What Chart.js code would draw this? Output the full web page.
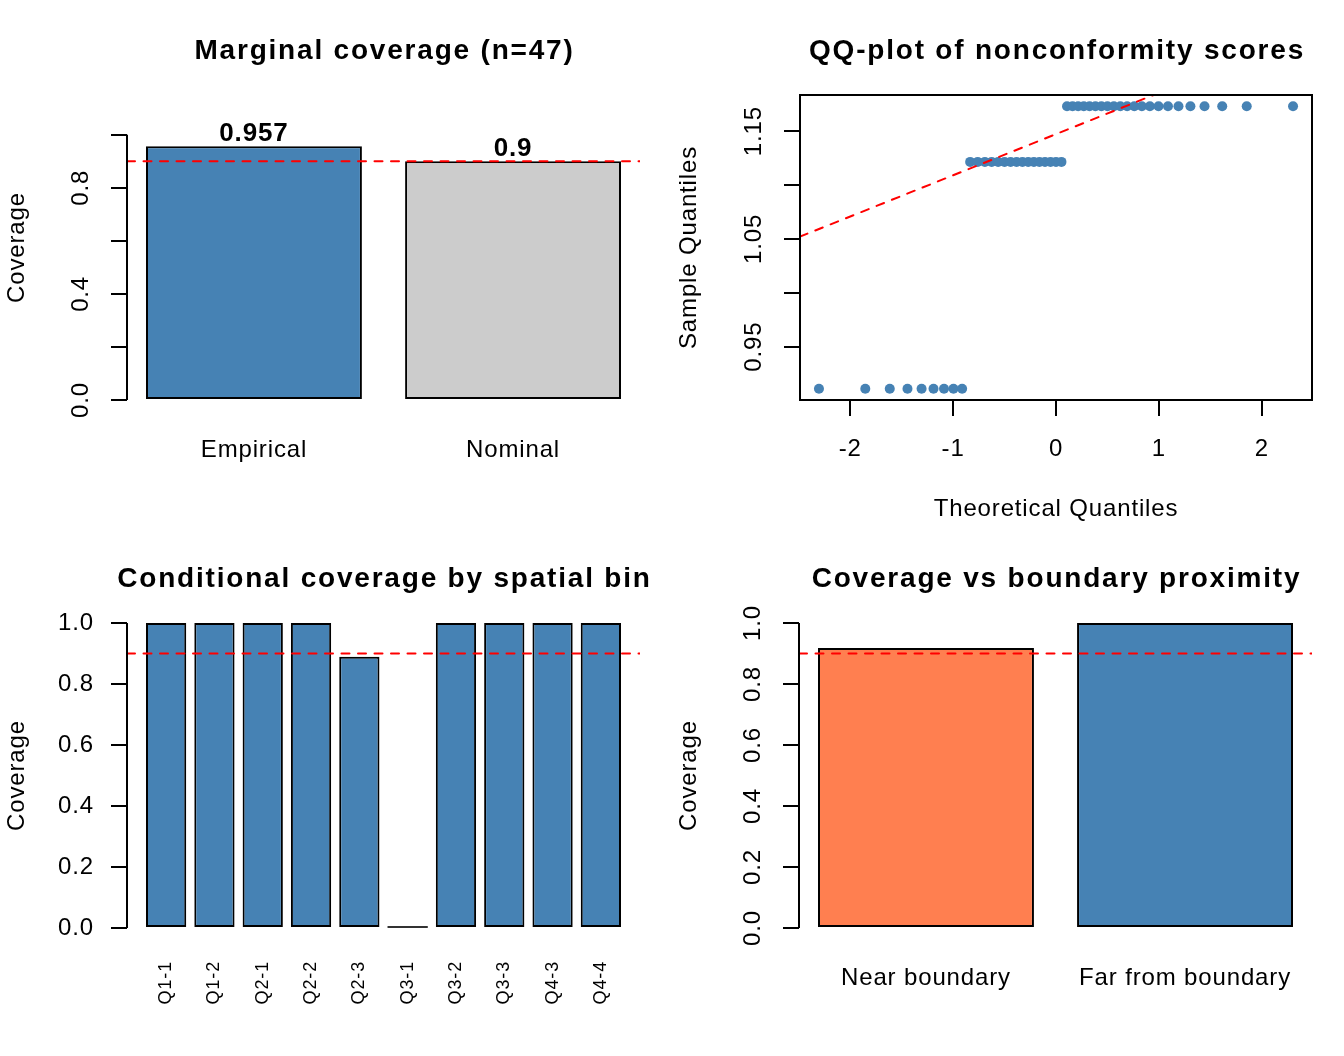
<!DOCTYPE html>
<html>
<head>
<meta charset="utf-8">
<script src="https://cdn.jsdelivr.net/npm/chart.js@4.4.1/dist/chart.umd.min.js"></script>
<style>
  body { margin: 0; background: #fff; }
  #wrap { position: relative; width: 1344px; height: 1056px; background: #fff; }
  #wrap canvas { position: absolute; }
</style>
</head>
<body>
<div id="wrap">
  <canvas id="marginal" width="672" height="528" style="left:0;top:0"></canvas>
  <canvas id="qqplot" width="672" height="528" style="left:672px;top:0"></canvas>
  <canvas id="bins" width="672" height="528" style="left:0;top:528px"></canvas>
  <canvas id="boundary" width="672" height="528" style="left:672px;top:528px"></canvas>
</div>
<script>
// Panel 1: marginal coverage
const marginalLabels = ['Empirical', 'Nominal'];
const marginalValues = [0.957, 0.9];
const marginalColors = ['#4682B4', '#CCCCCC'];
const nominalLevel = 0.9;

// Panel 2: QQ plot of nonconformity scores (n = 47)
const theoreticalQ = [
    -2.303, -1.853, -1.615, -1.443, -1.306, -1.190, -1.088, -0.996, -0.912, -0.834,
    -0.761, -0.691, -0.625, -0.562, -0.500, -0.441, -0.383, -0.326, -0.270, -0.215,
    -0.161, -0.107, -0.053, 0.000, 0.053, 0.107, 0.161, 0.215, 0.270, 0.326,
    0.383, 0.441, 0.500, 0.562, 0.625, 0.691, 0.761, 0.834, 0.912, 0.996,
    1.088, 1.190, 1.306, 1.443, 1.615, 1.853, 2.303
];
const sampleQ = [
    0.911, 0.911, 0.911, 0.911, 0.911, 0.911, 0.911, 0.911, 0.911,
    1.1215, 1.1215, 1.1215, 1.1215, 1.1215, 1.1215, 1.1215, 1.1215,
    1.1215, 1.1215, 1.1215, 1.1215, 1.1215, 1.1215, 1.1215, 1.1215,
    1.1731, 1.1731, 1.1731, 1.1731, 1.1731, 1.1731, 1.1731, 1.1731, 1.1731, 1.1731, 1.1731,
    1.1731, 1.1731, 1.1731, 1.1731, 1.1731, 1.1731, 1.1731, 1.1731, 1.1731, 1.1731, 1.1731
];
const qqXTicks = [-2, -1, 0, 1, 2];
const qqXTickLabels = ['-2', '-1', '0', '1', '2'];
const qqYTicks = [0.95, 1.0, 1.05, 1.1, 1.15];
const qqYTickLabels = ['0.95', '', '1.05', '', '1.15'];

// Panel 3: conditional coverage by spatial bin
const binLabels = ['Q1-1', 'Q1-2', 'Q2-1', 'Q2-2', 'Q2-3', 'Q3-1', 'Q3-2', 'Q3-3', 'Q4-3', 'Q4-4'];
const binCoverage = [1, 1, 1, 1, 0.889, 0, 1, 1, 1, 1];

// Panel 4: coverage vs boundary proximity
const boundaryLabels = ['Near boundary', 'Far from boundary'];
const boundaryCoverage = [0.918, 1.0];
const boundaryColors = ['#FF7F50', '#4682B4'];

// Coverage axis ticks
const coverageTicks = [0, 0.2, 0.4, 0.6, 0.8, 1.0];
const coverageTickLabels = ['0.0', '0.2', '0.4', '0.6', '0.8', '1.0'];
const marginalTickLabels = ['0.0', '', '0.4', '', '0.8', ''];

const FONT = '"Liberation Sans", Arial, Helvetica, sans-serif';
const STEEL = '#4682B4';

Chart.defaults.color = '#000';
Chart.defaults.font.family = FONT;
Chart.defaults.font.size = 24;

// R-ish decorations: titles, axis line, box, value labels
const rStyle = {
    id: 'rStyle',
    beforeUpdate(chart) {
        chart.ctx.letterSpacing = '0.85px';
    },
    afterDatasetsDraw(chart, args, opts) {
        const { ctx, chartArea: a } = chart;
        ctx.save();
        ctx.strokeStyle = '#000';
        ctx.lineWidth = 2;

        if (opts.box) {
            ctx.strokeRect(a.left, a.top, a.right - a.left, a.bottom - a.top);
        }

        if (opts.axisLine) {
            const y = chart.scales.y;
            ctx.beginPath();
            ctx.moveTo(a.left, y.getPixelForValue(y.ticks[0].value));
            ctx.lineTo(a.left, y.getPixelForValue(y.ticks[y.ticks.length - 1].value));
            ctx.stroke();
        }

        if (opts.barIndex !== undefined) {
            const meta = chart.getDatasetMeta(opts.barIndex);
            const values = chart.data.datasets[opts.barIndex].data;

            // zero height bars still show their outline
            ctx.strokeStyle = '#333';
            meta.data.forEach((bar, i) => {
                if (values[i].y === 0) {
                    ctx.beginPath();
                    ctx.moveTo(bar.x - bar.width / 2, bar.base - 1);
                    ctx.lineTo(bar.x + bar.width / 2, bar.base - 1);
                    ctx.stroke();
                }
            });

            if (opts.valueLabels) {
                ctx.fillStyle = '#000';
                ctx.font = 'bold 26px ' + FONT;
                ctx.letterSpacing = '0.85px';
                ctx.textAlign = 'center';
                ctx.textBaseline = 'alphabetic';
                meta.data.forEach((bar, i) => {
                    ctx.fillText(String(values[i].y), bar.x, bar.y - 5.5);
                });
            }
        }
        ctx.restore();
    },
    afterDraw(chart, args, opts) {
        if (!opts.title) return;
        const { ctx, chartArea: a } = chart;
        ctx.save();
        ctx.fillStyle = '#000';
        ctx.font = 'bold 28px ' + FONT;
        ctx.letterSpacing = '1.8px';
        ctx.textAlign = 'center';
        ctx.textBaseline = 'alphabetic';
        ctx.fillText(opts.title, (a.left + a.right) / 2 + 1, 58.5);
        ctx.restore();
    }
};

const baseOptions = () => ({
    responsive: false,
    animation: false,
    devicePixelRatio: 1,
    layout: { padding: { left: 0, top: 95, right: 32, bottom: 0 } },
    plugins: {
        legend: { display: false },
        tooltip: { enabled: false }
    }
});

const tickGrid = { drawOnChartArea: false, tickLength: 16, color: '#000', lineWidth: 2 };

// barplot() layout: width 1, space 0.2, x range padded by 4%
function barXLimits(n) {
    const lo = 0.2;
    const hi = 1.2 * n;
    const pad = 0.04 * (hi - lo);
    return [lo - pad, hi + pad];
}

function barPanel(id, p) {
    const [xMin, xMax] = barXLimits(p.labels.length);
    const centers = p.labels.map((_, i) => 0.7 + 1.2 * i);

    const opts = baseOptions();
    opts.plugins.rStyle = { title: p.title, axisLine: true, barIndex: 1, valueLabels: !!p.valueLabels };
    opts.scales = {
        x: {
            type: 'linear',
            min: xMin,
            max: xMax,
            offset: false,
            afterBuildTicks: s => { s.ticks = centers.map(v => ({ value: v })); },
            ticks: {
                autoSkip: false,
                minRotation: p.xRotation,
                maxRotation: p.xRotation,
                padding: p.xPadding,
                font: { size: p.xFontSize },
                callback: (v, i) => p.labels[i]
            },
            grid: { display: false, drawTicks: false, offset: false },
            border: { display: false },
            afterFit: s => { s.height = 128; }
        },
        y: {
            type: 'linear',
            min: 0,
            max: p.yMax,
            afterBuildTicks: s => { s.ticks = coverageTicks.map(v => ({ value: v })); },
            ticks: {
                autoSkip: false,
                minRotation: p.yRotation,
                maxRotation: p.yRotation,
                crossAlign: p.yRotation ? 'center' : 'near',
                padding: p.yPadding,
                callback: (v, i) => p.yTickLabels[i]
            },
            grid: tickGrid,
            border: { display: false },
            title: { display: true, text: 'Coverage', padding: { top: 3, bottom: 0 } },
            afterFit: s => { s.width = 127; }
        }
    };

    return new Chart(document.getElementById(id), {
        type: 'bar',
        data: {
            datasets: [
                {
                    type: 'line',
                    data: [{ x: xMin, y: nominalLevel }, { x: xMax, y: nominalLevel }],
                    borderColor: '#FF0000',
                    borderWidth: 2,
                    borderDash: [8, 8.5],
                    borderCapStyle: 'round',
                    pointRadius: 0,
                    order: 0
                },
                {
                    type: 'bar',
                    data: p.values.map((v, i) => ({ x: centers[i], y: v })),
                    backgroundColor: p.colors,
                    borderColor: '#000',
                    borderWidth: 2,
                    borderSkipped: false,
                    barPercentage: 1 / 1.2,
                    categoryPercentage: 1,
                    order: 1
                }
            ]
        },
        options: opts,
        plugins: [rStyle]
    });
}

// Marginal coverage
barPanel('marginal', {
    title: 'Marginal coverage (n=47)',
    labels: marginalLabels,
    values: marginalValues,
    colors: marginalColors,
    valueLabels: true,
    yMax: 1.15,
    yTickLabels: marginalTickLabels,
    yRotation: 90,
    yPadding: 12,
    xRotation: 0,
    xPadding: 36.4,
    xFontSize: 24
});

// Conditional coverage by spatial bin
barPanel('bins', {
    title: 'Conditional coverage by spatial bin',
    labels: binLabels,
    values: binCoverage,
    colors: STEEL,
    yMax: 1,
    yTickLabels: coverageTickLabels,
    yRotation: 0,
    yPadding: 17,
    xRotation: 90,
    xPadding: 33,
    xFontSize: 18
});

// Coverage vs boundary proximity
barPanel('boundary', {
    title: 'Coverage vs boundary proximity',
    labels: boundaryLabels,
    values: boundaryCoverage,
    colors: boundaryColors,
    yMax: 1,
    yTickLabels: coverageTickLabels,
    yRotation: 90,
    yPadding: 12,
    xRotation: 0,
    xPadding: 36.4,
    xFontSize: 24
});

// QQ plot
(function () {
    const padRange = arr => {
        const lo = Math.min(...arr);
        const hi = Math.max(...arr);
        const pad = 0.04 * (hi - lo);
        return [lo - pad, hi + pad];
    };
    const [xMin, xMax] = padRange(theoreticalQ);
    const [yMin, yMax] = padRange(sampleQ);

    // qqline: through the 1st and 3rd quartiles
    const sorted = sampleQ.slice().sort((a, b) => a - b);
    const quant = p => {
        const h = (sorted.length - 1) * p;
        const lo = Math.floor(h);
        return sorted[lo] + (h - lo) * ((sorted[lo + 1] ?? sorted[lo]) - sorted[lo]);
    };
    const z = 0.6745;
    const slope = (quant(0.75) - quant(0.25)) / (2 * z);
    const intercept = quant(0.25) + slope * z;

    const opts = baseOptions();
    opts.plugins.rStyle = { title: 'QQ-plot of nonconformity scores', box: true };
    opts.scales = {
        x: {
            type: 'linear',
            min: xMin,
            max: xMax,
            afterBuildTicks: s => { s.ticks = qqXTicks.map(v => ({ value: v })); },
            ticks: {
                autoSkip: false,
                minRotation: 0,
                maxRotation: 0,
                padding: 19.4,
                callback: (v, i) => qqXTickLabels[i]
            },
            grid: tickGrid,
            border: { display: false },
            title: { display: true, text: 'Theoretical Quantiles', padding: { top: 0, bottom: 4 } },
            afterFit: s => { s.height = 128; }
        },
        y: {
            type: 'linear',
            min: yMin,
            max: yMax,
            afterBuildTicks: s => { s.ticks = qqYTicks.map(v => ({ value: v })); },
            ticks: {
                autoSkip: false,
                minRotation: 90,
                maxRotation: 90,
                crossAlign: 'center',
                padding: 5,
                callback: (v, i) => qqYTickLabels[i]
            },
            grid: tickGrid,
            border: { display: false },
            title: { display: true, text: 'Sample Quantiles', padding: { top: 3, bottom: 0 } },
            afterFit: s => { s.width = 128; }
        }
    };

    new Chart(document.getElementById('qqplot'), {
        type: 'scatter',
        data: {
            datasets: [
                {
                    data: [xMin, xMax].map(x => ({ x, y: intercept + slope * x })),
                    showLine: true,
                    borderColor: '#FF0000',
                    borderWidth: 2,
                    borderDash: [8, 8.5],
                    borderCapStyle: 'round',
                    pointRadius: 0,
                    order: 0
                },
                {
                    data: theoreticalQ.map((x, i) => ({ x, y: sampleQ[i] })),
                    backgroundColor: STEEL,
                    borderWidth: 0,
                    pointRadius: 5,
                    order: 1
                }
            ]
        },
        options: opts,
        plugins: [rStyle]
    });
})();
</script>
</body>
</html>
